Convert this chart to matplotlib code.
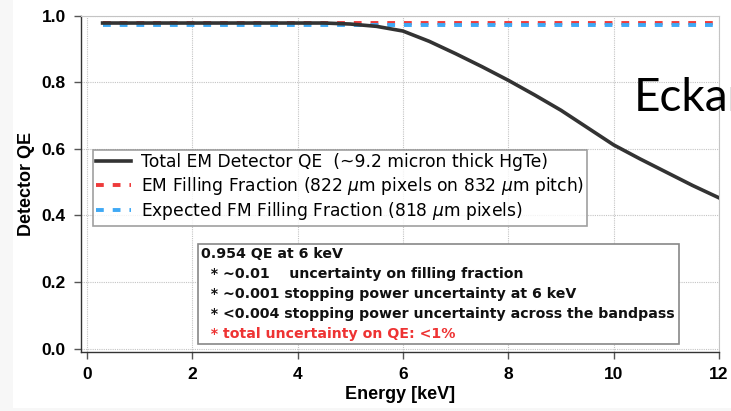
import matplotlib
matplotlib.use("Agg")
import matplotlib.pyplot as plt
from matplotlib.patches import Rectangle
from matplotlib.offsetbox import TextArea, VPacker, AnchoredOffsetbox

# ---- data ----
energy_kev = [0.3, 1, 2, 3, 4, 4.5, 5, 5.5, 6, 6.5, 7, 7.5, 8, 8.5, 9, 9.5, 10, 10.5, 11, 11.5, 12]
total_qe = [0.978, 0.978, 0.978, 0.978, 0.978, 0.978, 0.975, 0.968, 0.954, 0.923, 0.886, 0.847,
            0.806, 0.762, 0.716, 0.664, 0.612, 0.570, 0.530, 0.490, 0.453]
em_fill_x = [0.3, 12]
em_fill = [0.978, 0.978]
fm_fill_x = [0.3, 12]
fm_fill = [0.971, 0.971]

legend_labels = ["Total EM Detector QE  (~9.2 micron thick HgTe)",
                 "EM Filling Fraction (822 $\\mu$m pixels on 832 $\\mu$m pitch)",
                 "Expected FM Filling Fraction (818 $\\mu$m pixels)"]
box_lines = ["0.954 QE at 6 keV",
             "  * ~0.01    uncertainty on filling fraction",
             "  * ~0.001 stopping power uncertainty at 6 keV",
             "  * <0.004 stopping power uncertainty across the bandpass"]
box_red = "  * total uncertainty on QE: <1%"
xticks = [0, 2, 4, 6, 8, 10, 12]
yticks = [0.0, 0.2, 0.4, 0.6, 0.8, 1.0]

fig = plt.figure(figsize=(7.31, 4.11), dpi=100)
fig.patch.set_facecolor("#f7f7f7")
fig.patches.append(Rectangle((13/731, 3/411), 1, 1, transform=fig.transFigure,
                             fc="white", ec="none", zorder=-10))
ax = fig.add_axes([81/731, 1-352/411, (719-81)/731, (352-15.7)/411])

ax.plot(em_fill_x, em_fill, color="#ee3b3b", lw=2.8, ls=(0, (2.0, 2.3)), label=legend_labels[1], zorder=3)
ax.plot(fm_fill_x, fm_fill, color="#3fa9f5", lw=2.8, ls=(0, (2.0, 2.3)), label=legend_labels[2], zorder=3)
ax.plot(energy_kev, total_qe, color="#333333", lw=2.6, label=legend_labels[0], zorder=4)

ax.set_xlim(-0.11, 12)
ax.set_ylim(-0.01, 1.0)
ax.set_xticks(xticks)
ax.set_yticks(yticks)
ax.set_xticklabels([str(t) for t in xticks])
ax.set_yticklabels([f"{t:.1f}" for t in yticks])
ax.grid(True, color="#c4c4c4", ls=(0, (1, 1)), lw=0.8)
for s in ["top", "right"]:
    ax.spines[s].set_color("#c4c4c4")
    ax.spines[s].set_linestyle((0, (1, 1)))
    ax.spines[s].set_linewidth(0.8)
for s in ["left", "bottom"]:
    ax.spines[s].set_color("#333333")
    ax.spines[s].set_linewidth(1.0)
ax.tick_params(direction="out", length=5, width=1, color="#555555", pad=6)
for lab in ax.get_xticklabels() + ax.get_yticklabels():
    lab.set_fontweight("bold")
    lab.set_fontsize(12.5)
    lab.set_fontfamily("Liberation Sans")
ax.set_xlabel("Energy [keV]", fontsize=13, fontweight="bold", family="Liberation Sans", labelpad=3)
ax.set_ylabel("Detector QE", fontsize=13, fontweight="bold", family="Liberation Sans", labelpad=5)

handles, labels = ax.get_legend_handles_labels()
order = [2, 0, 1]
leg = ax.legend([handles[i] for i in order], [labels[i] for i in order],
                loc="upper left", bbox_to_anchor=(0.0188, 0.601), borderaxespad=0,
                fontsize=12.3, frameon=True, fancybox=False, handlelength=2.0,
                handletextpad=0.6, labelspacing=0.2, borderpad=0.2)
leg.get_frame().set_edgecolor("#888888")
leg.get_frame().set_linewidth(1.2)

props = dict(fontsize=10.2, fontweight="bold", color="#111111")
children = [TextArea(t, textprops=props) for t in box_lines]
children.append(TextArea(box_red, textprops=dict(fontsize=10.2, fontweight="bold", color="#ee3333")))
pack = VPacker(children=children, align="left", pad=0, sep=4.2)
box = AnchoredOffsetbox(loc="upper left", child=pack, pad=0.25, borderpad=0, frameon=True,
                        bbox_to_anchor=((198-81)/638, (352-244)/336), bbox_transform=ax.transAxes)
box.patch.set_edgecolor("#888888")
box.patch.set_linewidth(1.2)
box.patch.set_boxstyle("square", pad=0)
box.set_zorder(6)
ax.add_artist(box)

fig.text(634/731, 1-111/411, "Eckar", fontsize=33, family="Lato", color="black")

fig.savefig("out.png", dpi=100, facecolor=fig.get_facecolor())
